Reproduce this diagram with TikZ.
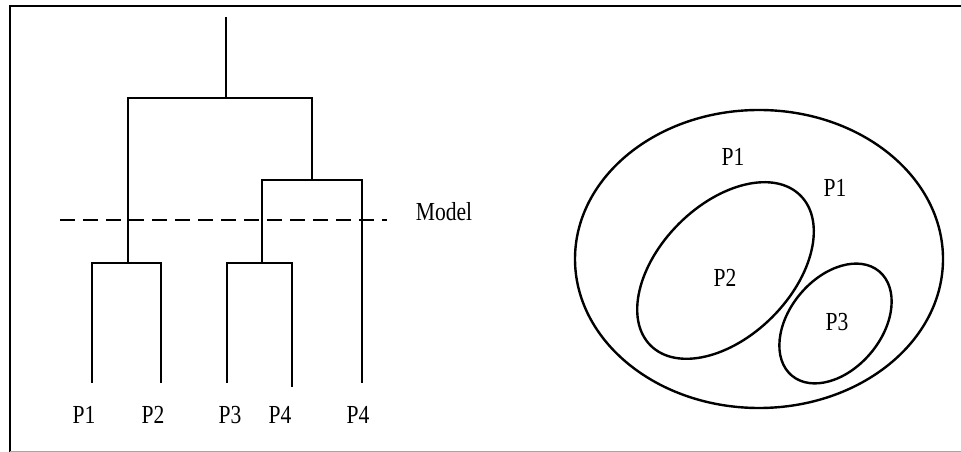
\documentclass[tikz,border=0pt]{standalone}
\usepackage{fontspec}
\setmainfont{Liberation Serif}[FakeStretch=0.83]
\begin{document}
\begin{tikzpicture}[x=1pt,y=1pt,
  tree/.style={line width=2.5pt, line cap=rect},
  cut/.style={line width=2.8pt, dash pattern=on 15pt off 8pt},
  lab/.style={inner sep=0pt, font=\fontsize{26}{30}\selectfont},
  ring/.style={line width=2.4pt}]
\useasboundingbox (0,0) rectangle (961,452);
% frame
\draw[line width=2.4pt] (10,0) -- (10,446) -- (961,446);
\draw[line width=1pt, gray!70] (10,0.5) -- (961,0.5);
% dendrogram coordinates
\coordinate (rt) at (226,434);
\coordinate (rj) at (226,354);
\coordinate (lt) at (128,354);
\coordinate (rtt) at (312,354);
\coordinate (ri) at (312,272);
\coordinate (il) at (262,272);
\coordinate (ir) at (362,272);
\coordinate (lb) at (128,189);
\coordinate (a1) at (92,189);
\coordinate (a2) at (161,189);
\coordinate (mb) at (262,189);
\coordinate (b1) at (227,189);
\coordinate (b2) at (292,189);
\coordinate (l1) at (92,70);
\coordinate (l2) at (161,70);
\coordinate (l3) at (227,70);
\coordinate (l4) at (292,66);
\coordinate (l5) at (362,70);
\draw[tree] (rt) -- (rj);
\draw[tree] (lb) -- (lt) -- (rtt) -- (ri);
\draw[tree] (mb) -- (il) -- (ir) -- (l5);
\draw[tree] (l1) -- (a1) -- (a2) -- (l2);
\draw[tree] (l3) -- (b1) -- (b2) -- (l4);
% cut line
\coordinate (c1) at (60,232);
\coordinate (c2) at (387,232);
\draw[cut] (c1) -- (c2);
\node[lab] (model) at (444,240) {Model};
% leaf labels
\node[lab] (t1) at (84,37) {P1};
\node[lab] (t2) at (153,37) {P2};
\node[lab] (t3) at (230,37) {P3};
\node[lab] (t4) at (280,37) {P4};
\node[lab] (t5) at (358,37) {P4};
% nested sets
\draw[ring] (759,193) ellipse [x radius=184, y radius=149];
\draw[ring, rotate around={45:(725.5,181.5)}] (725.5,181.5) ellipse [x radius=106, y radius=66];
\draw[ring, rotate around={50:(835.5,128.5)}] (835.5,128.5) ellipse [x radius=68, y radius=46];
\node[lab] (s1) at (733,295) {P1};
\node[lab] (s2) at (835,264) {P1};
\node[lab] (s3) at (725,174) {P2};
\node[lab] (s4) at (837,130) {P3};
\end{tikzpicture}
\end{document}
